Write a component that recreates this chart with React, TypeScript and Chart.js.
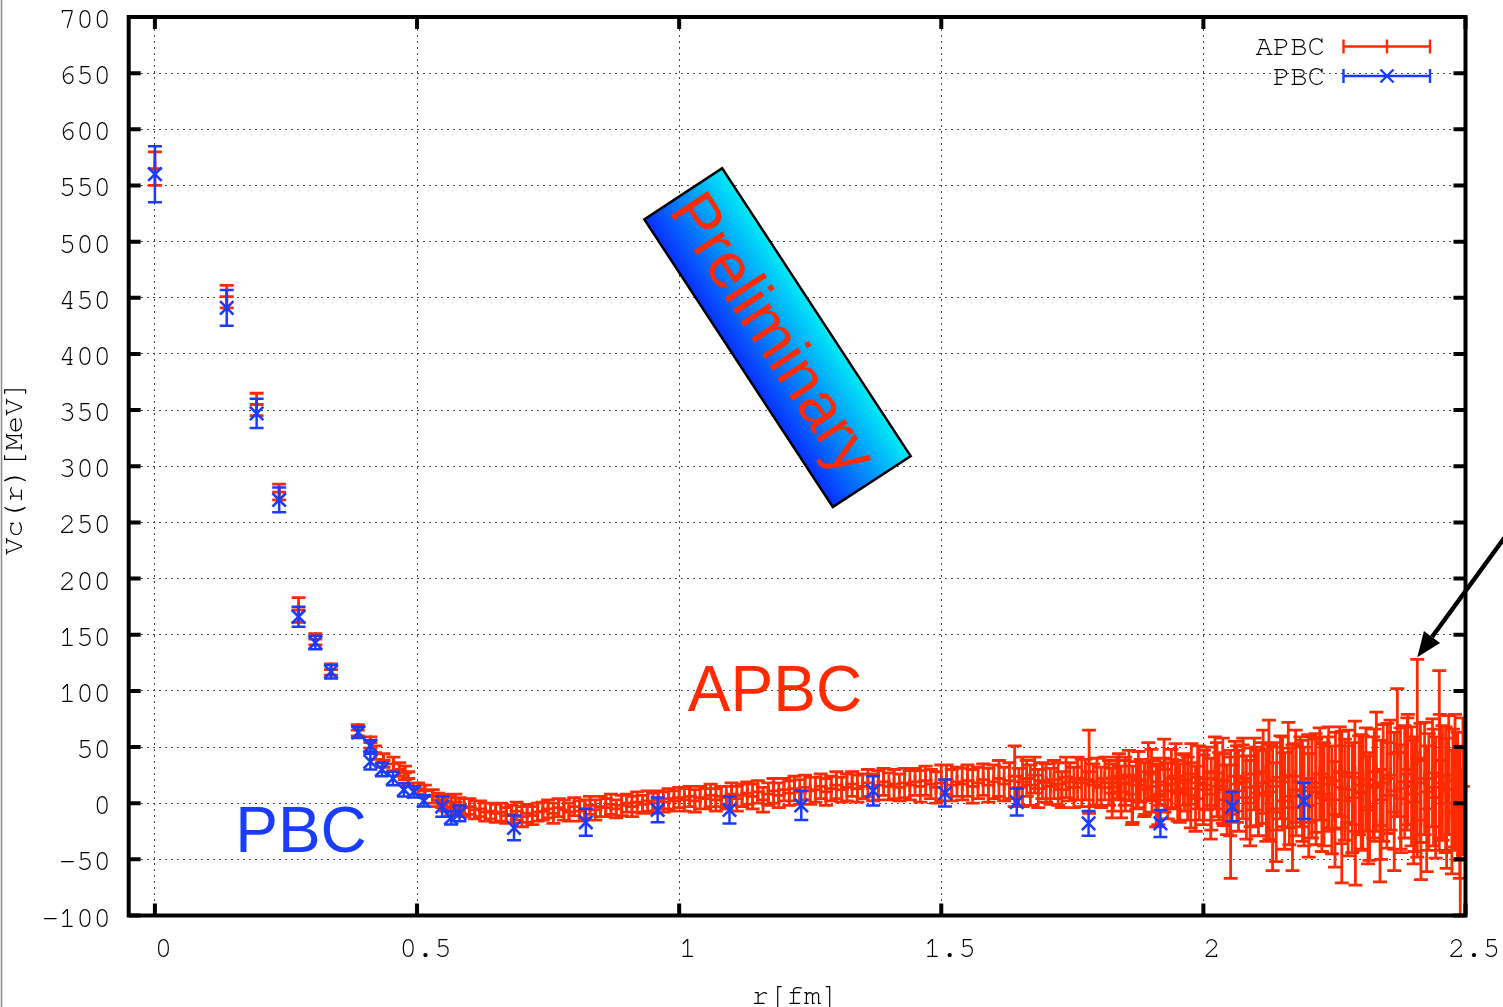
import { useEffect, useRef } from 'react';
import { Chart, registerables } from 'chart.js';

Chart.register(...registerables);

const RED = '#ff2a00';
const BLUE = '#1a3cff';
const MONO = '"Nimbus Mono PS", "FreeMono", "Courier New", "Liberation Mono", monospace';
const SANS = '"Liberation Sans", Arial, sans-serif';

// ---- axis ticks ----
const xTicks = [0, 0.5, 1, 1.5, 2, 2.5];
const xTickLabels = ['0', '0.5', '1', '1.5', '2', '2.5'];
const yTicks = [-100, -50, 0, 50, 100, 150, 200, 250, 300, 350, 400, 450, 500, 550, 600, 650, 700];
const yTickLabels = ['\u2212100', '\u221250', '0', '50', '100', '150', '200', '250', '300', '350', '400', '450', '500', '550', '600', '650', '700'];

// ---- PBC series (r [fm], Vc [MeV], error) ----
const pbcR = [
  0, 0.137, 0.194, 0.237, 0.274, 0.306, 0.336, 0.388, 0.411, 0.411,
  0.433, 0.454, 0.475, 0.494, 0.513, 0.548, 0.565, 0.581, 0.685, 0.822,
  0.959, 1.096, 1.233, 1.37, 1.507, 1.644, 1.781, 1.918, 2.055, 2.192,
];
const pbcV = [
  560, 441, 347, 270, 166, 143, 117, 63, 51, 37,
  30, 22, 12, 10, 2, -3, -13, -9, -22, -17,
  -6, -6, -2, 11, 9, 1, -18, -18, -3, 2,
];
const pbcErr = [
  25, 16, 13, 11, 9, 6, 6, 5, 5, 7,
  6, 6, 6, 5, 5, 9, 6, 7, 11, 12,
  11, 12, 13, 13, 12, 12, 11, 12, 13, 16,
];

// ---- APBC series (r [fm], Vc [MeV], error) ----
const apbcR = [
  0, 0.137, 0.194, 0.237, 0.274, 0.306, 0.336, 0.387, 0.411, 0.42,
  0.436, 0.455, 0.466, 0.477, 0.483, 0.502, 0.515, 0.53, 0.54, 0.548,
  0.556, 0.565, 0.573, 0.581, 0.59, 0.6, 0.61, 0.62, 0.63, 0.64,
  0.65, 0.66, 0.67, 0.68, 0.69, 0.7, 0.71, 0.72, 0.73, 0.74,
  0.75, 0.76, 0.77, 0.78, 0.79, 0.8, 0.81, 0.82, 0.83, 0.84,
  0.85, 0.86, 0.87, 0.88, 0.89, 0.9, 0.91, 0.92, 0.93, 0.94,
  0.95, 0.96, 0.97, 0.98, 0.99, 1.0, 1.01, 1.02, 1.03, 1.04,
  1.05, 1.06, 1.07, 1.08, 1.09, 1.1, 1.11, 1.12, 1.13, 1.14,
  1.15, 1.16, 1.17, 1.18, 1.19, 1.2, 1.21, 1.22, 1.23, 1.24,
  1.25, 1.26, 1.27, 1.28, 1.29, 1.3, 1.31, 1.32, 1.33, 1.34,
  1.35, 1.36, 1.37, 1.38, 1.39, 1.4, 1.41, 1.42, 1.43, 1.44,
  1.45, 1.46, 1.47, 1.48, 1.49, 1.5, 1.51, 1.52, 1.53, 1.54,
  1.55, 1.56, 1.57, 1.58, 1.59, 1.6, 1.61, 1.62, 1.63, 1.64,
  1.648, 1.655, 1.663, 1.67, 1.678, 1.685, 1.693, 1.7, 1.708, 1.715,
  1.723, 1.73, 1.738, 1.745, 1.753, 1.76, 1.768, 1.775, 1.782, 1.79,
  1.797, 1.805, 1.812, 1.82, 1.828, 1.835, 1.843, 1.85, 1.858, 1.865,
  1.872, 1.88, 1.887, 1.895, 1.902, 1.91, 1.917, 1.925, 1.932, 1.94,
  1.947, 1.955, 1.962, 1.97, 1.977, 1.985, 1.992, 2.0, 2.007, 2.015,
  2.022, 2.03, 2.037, 2.045, 2.052, 2.06, 2.067, 2.075, 2.082, 2.09,
  2.097, 2.105, 2.112, 2.12, 2.125, 2.132, 2.14, 2.147, 2.155, 2.162,
  2.17, 2.177, 2.185, 2.192, 2.2, 2.207, 2.215, 2.222, 2.23, 2.237,
  2.245, 2.252, 2.26, 2.264, 2.27, 2.277, 2.284, 2.29, 2.297, 2.304,
  2.31, 2.317, 2.324, 2.33, 2.337, 2.343, 2.35, 2.357, 2.364, 2.37,
  2.377, 2.384, 2.39, 2.397, 2.403, 2.408, 2.415, 2.422, 2.43, 2.437,
  2.443, 2.45, 2.456, 2.462, 2.468, 2.474, 2.48, 2.485, 2.49, 2.495,
  1.826, 1.839, 1.851, 1.864, 1.876, 1.889, 1.901, 1.914, 1.926, 1.939,
  1.951, 1.964, 1.976, 1.989, 2.001, 2.014, 2.026, 2.039, 2.051, 2.064,
  2.076, 2.089, 2.101, 2.114, 2.126, 2.139, 2.151, 2.164, 2.176, 2.189,
  2.201, 2.214, 2.226, 2.239, 2.251, 2.264, 2.276, 2.289, 2.301, 2.314,
  2.326, 2.339, 2.351, 2.364, 2.376, 2.389, 2.401, 2.414, 2.426, 2.439,
  2.451, 2.464, 2.476, 2.489,
];
const apbcV = [
  565, 451, 355, 277, 172, 146, 119, 65, 54, 45,
  38, 35, 30, 27, 22, 13, 11, 6, 3, 2,
  0, -3, 1, -2, -4, -3, -6, -5, -8, -7,
  -9, -8, -11, -10, -7, -12, -9, -11, -8, -7,
  -5, -9, -4, -6, -8, -3, -7, -5, -2, -6,
  -3, -4, -1, -5, -2, 0, -3, 1, -1, 2,
  0, 3, 1, 4, 2, 5, 3, 6, 2, 5,
  4, 7, 3, 6, 5, 8, 4, 7, 9, 6,
  10, 3, 8, 11, 7, 12, 9, 13, 10, 14,
  11, 12, 15, 10, 13, 16, 12, 14, 17, 13,
  15, 18, 14, 16, 19, 15, 17, 14, 18, 16,
  19, 15, 20, 17, 14, 18, 21, 16, 19, 17,
  20, 15, 18, 21, 16, 19, 22, 17, 20, 24,
  14, 19, 22, 16, 25, 13, 20, 18, 15, 21,
  17, 12, 23, 19, 14, 22, 18, 21, 28, 16,
  19, 14, 22, 18, 14, 22, 10, 18, 25, 8,
  16, 20, 12, 28, 15, 6, 19, 30, 11, 17,
  24, 9, 21, 13, 26, 4, 18, 12, 22, 8,
  27, 15, 20, 3, -10, 24, 11, 19, 5, 14,
  26, 9, 18, 7, 20, -5, 15, 23, 2, 25,
  -4, 12, 19, 6, 22, 14, 10, 26, 8, 17,
  3, 20, 28, -22, 12, 24, 5, -25, 16, 9,
  21, -3, 14, 28, -20, 18, 7, 25, 11, 45,
  4, 19, 30, 15, 8, 40, -15, 22, 10, 27,
  5, 38, 18, 12, 25, -8, 20, 6, -40, 15,
  9, 24, 17, 2, 21, 13, 26, 8, 16, 22,
  11, 18, 7, 23, 16, -2, 21, 12, 6, 17,
  22, 0, 15, 28, 10, -8, 19, 6, 24, 11,
  -2, 18, 5, 23, -10, 14, 2, 27, 10, -6,
  16, 3, 22, -8, 13, 26, 1, 18, -5, 14,
  24, 0, 12, -10,
];
const apbcErr = [
  15, 10, 10, 7, 11, 5, 5, 5, 5, 6,
  6, 6, 6, 6, 6, 5, 5, 6, 6, 6,
  7, 8, 7, 7, 8, 7, 8, 7, 8, 7,
  8, 8, 7, 8, 8, 9, 8, 8, 8, 8,
  8, 9, 8, 9, 8, 8, 9, 8, 8, 9,
  9, 8, 9, 8, 9, 8, 9, 9, 8, 9,
  9, 8, 9, 9, 9, 9, 10, 9, 10, 10,
  9, 10, 10, 9, 10, 10, 11, 10, 10, 11,
  10, 11, 10, 11, 11, 10, 11, 11, 11, 11,
  12, 11, 11, 12, 11, 12, 11, 12, 11, 12,
  11, 12, 12, 13, 12, 12, 13, 12, 13, 13,
  12, 14, 13, 13, 14, 16, 13, 14, 13, 14,
  14, 15, 14, 14, 15, 15, 16, 15, 16, 27,
  17, 22, 16, 18, 16, 17, 16, 17, 16, 17,
  19, 16, 18, 17, 18, 19, 21, 18, 37, 19,
  21, 18, 19, 20, 21, 19, 23, 20, 22, 25,
  21, 19, 24, 26, 23, 27, 21, 27, 25, 22,
  29, 26, 23, 28, 27, 29, 33, 31, 28, 32,
  32, 30, 38, 31, 57, 31, 36, 33, 37, 35,
  32, 38, 36, 41, 54, 55, 39, 37, 43, 47,
  56, 41, 40, 44, 39, 45, 47, 41, 46, 42,
  48, 43, 40, 49, 45, 41, 49, 48, 44, 51,
  46, 48, 45, 53, 50, 52, 47, 49, 52, 57,
  48, 50, 49, 53, 51, 88, 53, 50, 52, 48,
  54, 80, 51, 56, 53, 55, 59, 57, 70, 61,
  22, 20, 24, 21, 25, 23, 22, 27, 24, 26,
  27, 25, 29, 28, 31, 30, 33, 32, 35, 34,
  36, 38, 35, 37, 42, 44, 40, 43, 41, 45,
  46, 44, 48, 45, 47, 50, 49, 46, 51, 48,
  50, 53, 49, 52, 54, 50, 55, 53, 56, 52,
  55, 58, 54, 57,
];

// arrow annotation (data coordinates): tail -> head
const arrowTail = { x: 2.58, y: 240 };
const arrowHead = { x: 2.408, y: 130 };

const errorBarPlugin = {
  id: 'errorBars',
  beforeDatasetDraw(chart: any, args: any) {
    const ds = chart.data.datasets[args.index];
    const xs = chart.scales.x;
    const ys = chart.scales.y;
    const a = chart.chartArea;
    const ctx = chart.ctx;
    ctx.save();
    ctx.beginPath();
    ctx.rect(a.left, a.top, a.right - a.left, a.bottom - a.top);
    ctx.clip();
    ctx.strokeStyle = ds.borderColor;
    ctx.lineWidth = ds.errWidth;
    ctx.lineCap = 'butt';
    ctx.beginPath();
    const cap = 7;
    for (const p of ds.data) {
      const px = xs.getPixelForValue(p.x);
      const y1 = ys.getPixelForValue(p.y + p.e);
      const y2 = ys.getPixelForValue(p.y - p.e);
      ctx.moveTo(px, y1);
      ctx.lineTo(px, y2);
      ctx.moveTo(px - cap, y1);
      ctx.lineTo(px + cap, y1);
      ctx.moveTo(px - cap, y2);
      ctx.lineTo(px + cap, y2);
    }
    ctx.stroke();
    ctx.restore();
  },
};

const decorPlugin = {
  id: 'decor',
  afterDraw(chart: any) {
    const ctx = chart.ctx;
    const a = chart.chartArea;
    const xs = chart.scales.x;
    const ys = chart.scales.y;
    ctx.save();

    // image left edge line
    ctx.strokeStyle = '#8a8a8a';
    ctx.lineWidth = 1.5;
    ctx.beginPath();
    ctx.moveTo(1.5, 0);
    ctx.lineTo(1.5, 1007);
    ctx.stroke();

    // frame
    ctx.strokeStyle = '#000';
    ctx.lineWidth = 4;
    ctx.strokeRect(a.left, a.top, a.right - a.left, a.bottom - a.top);
    const tl = 12;
    ctx.beginPath();
    xTicks.forEach((v) => {
      const px = xs.getPixelForValue(v);
      ctx.moveTo(px, a.bottom);
      ctx.lineTo(px, a.bottom - tl);
      ctx.moveTo(px, a.top);
      ctx.lineTo(px, a.top + tl);
    });
    yTicks.forEach((v) => {
      const py = ys.getPixelForValue(v);
      ctx.moveTo(a.left, py);
      ctx.lineTo(a.left + tl, py);
      ctx.moveTo(a.right, py);
      ctx.lineTo(a.right - tl, py);
    });
    ctx.stroke();

    // tick labels
    ctx.fillStyle = '#000';
    ctx.font = `29px ${MONO}`;
    ctx.textBaseline = 'alphabetic';
    ctx.textAlign = 'right';
    yTicks.forEach((v, i) => {
      ctx.fillText(yTickLabels[i], 111, ys.getPixelForValue(v) + 11);
    });
    ctx.textAlign = 'center';
    xTicks.forEach((v, i) => {
      ctx.fillText(xTickLabels[i], xs.getPixelForValue(v) + 8.5, 957);
    });

    // axis titles
    ctx.fillText('r[fm]', 795, 1004);
    ctx.save();
    ctx.translate(21.5, 468);
    ctx.rotate(-Math.PI / 2);
    ctx.textAlign = 'center';
    ctx.fillText('Vc(r)[MeV]', 0, 0);
    ctx.restore();

    // legend
    ctx.textAlign = 'right';
    ctx.fillText('APBC', 1325, 55);
    ctx.fillText('PBC', 1325, 85);
    const lx1 = 1343.5, lx2 = 1430, lxc = 1387;
    ctx.lineWidth = 2.4;
    ctx.strokeStyle = RED;
    ctx.beginPath();
    ctx.moveTo(lx1, 46.5); ctx.lineTo(lx2, 46.5);
    ctx.moveTo(lx1, 39.5); ctx.lineTo(lx1, 53.5);
    ctx.moveTo(lx2, 39.5); ctx.lineTo(lx2, 53.5);
    ctx.moveTo(lxc, 39.5); ctx.lineTo(lxc, 53.5);
    ctx.stroke();
    ctx.strokeStyle = BLUE;
    ctx.lineWidth = 2.4;
    ctx.beginPath();
    ctx.moveTo(lx1, 76); ctx.lineTo(lx2, 76);
    ctx.moveTo(lx1, 69); ctx.lineTo(lx1, 83);
    ctx.moveTo(lx2, 69); ctx.lineTo(lx2, 83);
    ctx.moveTo(lxc - 6.5, 69.5); ctx.lineTo(lxc + 6.5, 82.5);
    ctx.moveTo(lxc - 6.5, 82.5); ctx.lineTo(lxc + 6.5, 69.5);
    ctx.stroke();

    // big labels
    ctx.font = `64px ${SANS}`;
    ctx.textAlign = 'center';
    ctx.fillStyle = RED;
    ctx.fillText('APBC', 775, 711);
    ctx.fillStyle = BLUE;
    ctx.fillText('PBC', 301, 852);

    // Preliminary box
    ctx.save();
    ctx.translate(777.5, 337.7);
    ctx.rotate((56.77 * Math.PI) / 180);
    const L = 344, W = 93;
    const g = ctx.createLinearGradient(0, W / 2, 0, -W / 2);
    g.addColorStop(0, '#0830ff');
    g.addColorStop(1, '#00ecf6');
    ctx.fillStyle = g;
    ctx.fillRect(-L / 2, -W / 2, L, W);
    ctx.lineWidth = 2.5;
    ctx.strokeStyle = '#000';
    ctx.strokeRect(-L / 2, -W / 2, L, W);
    ctx.fillStyle = RED;
    ctx.font = `64px ${SANS}`;
    ctx.textAlign = 'center';
    ctx.textBaseline = 'alphabetic';
    ctx.fillText('Preliminary', -6, 22);
    ctx.restore();

    // arrow
    const tx = xs.getPixelForValue(arrowTail.x), ty = ys.getPixelForValue(arrowTail.y);
    const hx = xs.getPixelForValue(arrowHead.x), hy = ys.getPixelForValue(arrowHead.y);
    const dx = hx - tx, dy = hy - ty;
    const len = Math.hypot(dx, dy);
    const ux = dx / len, uy = dy / len;
    const hl = 25, hw = 10;
    const bx = hx - ux * hl, by = hy - uy * hl;
    ctx.strokeStyle = '#000';
    ctx.lineWidth = 4.5;
    ctx.beginPath();
    ctx.moveTo(tx, ty);
    ctx.lineTo(bx, by);
    ctx.stroke();
    ctx.fillStyle = '#000';
    ctx.beginPath();
    ctx.moveTo(hx, hy);
    ctx.lineTo(bx - uy * hw, by + ux * hw);
    ctx.lineTo(bx + uy * hw, by - ux * hw);
    ctx.closePath();
    ctx.fill();

    ctx.restore();
  },
};

export default function App() {
  const ref = useRef<HTMLCanvasElement>(null);
  useEffect(() => {
    const canvas = ref.current;
    if (!canvas) return;
    const apbcData = apbcR.map((r, i) => ({ x: r, y: apbcV[i], e: apbcErr[i] }));
    const pbcData = pbcR.map((r, i) => ({ x: r, y: pbcV[i], e: pbcErr[i] }));
    const chart = new Chart(canvas, {
      type: 'scatter',
      data: {
        datasets: [
          {
            label: 'APBC',
            data: apbcData,
            borderColor: RED,
            backgroundColor: RED,
            pointStyle: 'cross',
            pointRadius: 7,
            pointBorderWidth: 2.8,
            order: 2,
            clip: false,
            errWidth: 2.8,
          } as any,
          {
            label: 'PBC',
            data: pbcData,
            borderColor: BLUE,
            backgroundColor: BLUE,
            pointStyle: 'crossRot',
            pointRadius: 9.5,
            pointBorderWidth: 2.6,
            order: 1,
            errWidth: 2.5,
          } as any,
        ],
      },
      options: {
        responsive: false,
        animation: false,
        events: [],
        layout: { padding: { left: 128.7, right: 37.5, top: 17, bottom: 91.5 } },
        plugins: { legend: { display: false }, tooltip: { enabled: false } },
        scales: {
          x: {
            type: 'linear',
            min: -0.05,
            max: 2.5,
            afterBuildTicks: (s: any) => {
              s.ticks = xTicks.map((v) => ({ value: v }));
            },
            ticks: { display: false },
            grid: { color: '#4a4a4a', lineWidth: 1, drawTicks: false },
            border: { display: false, dash: [2, 4] },
          },
          y: {
            type: 'linear',
            min: -100,
            max: 700,
            afterBuildTicks: (s: any) => {
              s.ticks = yTicks.map((v) => ({ value: v }));
            },
            ticks: { display: false },
            grid: { color: '#4a4a4a', lineWidth: 1, drawTicks: false },
            border: { display: false, dash: [2, 4] },
          },
        },
      } as any,
      plugins: [errorBarPlugin, decorPlugin],
    });
    return () => chart.destroy();
  }, []);
  return (
    <div style={{ position: 'absolute', left: 0, top: 0, width: 1503, height: 1007, background: '#fff' }}>
      <canvas ref={ref} width={1503} height={1007} style={{ display: 'block' }} />
    </div>
  );
}
